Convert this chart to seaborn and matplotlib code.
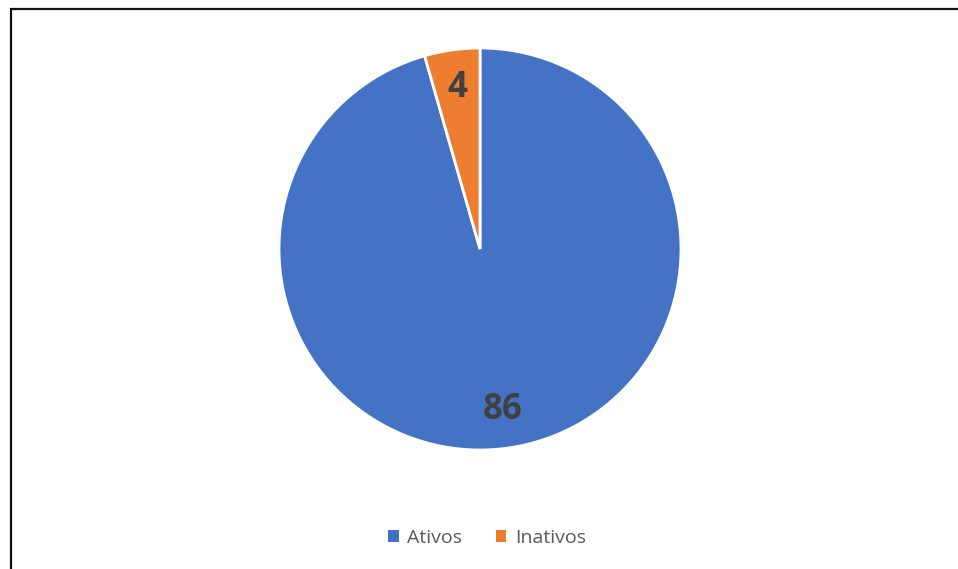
import matplotlib
matplotlib.use("Agg")
import matplotlib.pyplot as plt
import seaborn as sns
from matplotlib.patches import Rectangle

sns.set_theme(style="white")
plt.rcParams['font.family'] = ['Open Sans', 'DejaVu Sans']

# data
categories = ['Ativos', 'Inativos']
values = [86, 4]
colors = ['#4472C4', '#ED7D31']

fig = plt.figure(figsize=(9.58, 5.69), dpi=100)
fig.patch.set_facecolor('white')

# outer frame (runs off the right and bottom edges)
fig.patches.append(Rectangle((11 / 958, -0.05), 1.0, 1 - 9 / 569 + 0.05,
                             transform=fig.transFigure, fill=False,
                             edgecolor='#111111', linewidth=1.6))

# pie axes placed so the pie sits at the same spot as the reference
ax = fig.add_axes([(480 - 201) / 958, (569 - 249 - 201) / 569, 402 / 958, 402 / 569])

wedges, texts = ax.pie(
    values,
    colors=colors,
    startangle=90,
    counterclock=False,
    labels=[str(v) for v in values],
    labeldistance=0.81,
    wedgeprops=dict(edgecolor='white', linewidth=2),
    textprops=dict(fontsize=25, fontweight='bold', color='#404040',
                   ha='center', va='center'),
)
ax.set_xlim(-1, 1)
ax.set_ylim(-1, 1)
ax.set_aspect('equal')
ax.axis('off')

leg = fig.legend(
    wedges, categories,
    loc='center', bbox_to_anchor=(487 / 958, 1 - 538 / 569),
    ncol=2, frameon=False, fontsize=14, labelcolor='#595959',
    handlelength=0.55, handleheight=0.55, handletextpad=0.45, columnspacing=1.7,
)
for h in leg.legend_handles:
    h.set_edgecolor('none')

fig.savefig('out.png', dpi=100)
